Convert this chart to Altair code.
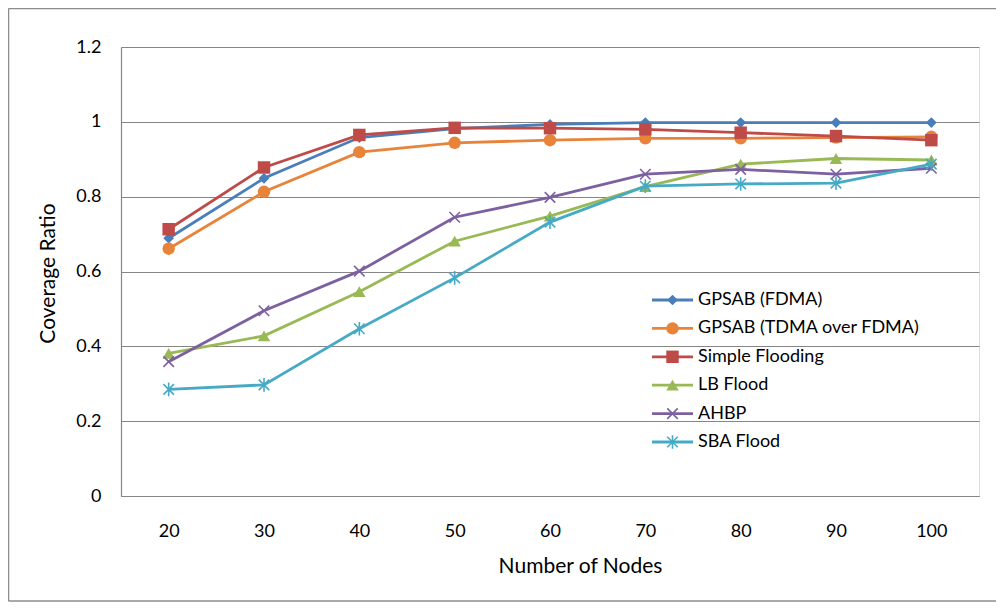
import altair as alt
import pandas as pd

nodes = [20, 30, 40, 50, 60, 70, 80, 90, 100]
series_names = ["GPSAB (FDMA)", "GPSAB (TDMA over FDMA)", "Simple Flooding",
                "LB Flood", "AHBP", "SBA Flood"]
gpsab_fdma = [0.689, 0.849, 0.958, 0.982, 0.993, 0.998, 0.998, 0.998, 0.998]
gpsab_tdma = [0.661, 0.813, 0.919, 0.944, 0.951, 0.956, 0.956, 0.958, 0.960]
simple_flooding = [0.713, 0.878, 0.965, 0.984, 0.983, 0.980, 0.971, 0.962, 0.951]
lb_flood = [0.381, 0.428, 0.546, 0.681, 0.748, 0.827, 0.887, 0.902, 0.898]
ahbp = [0.359, 0.495, 0.601, 0.745, 0.798, 0.860, 0.873, 0.860, 0.876]
sba_flood = [0.285, 0.297, 0.447, 0.583, 0.732, 0.828, 0.834, 0.836, 0.887]
y_ticks = [0, 0.2, 0.4, 0.6, 0.8, 1.0, 1.2]

all_values = [gpsab_fdma, gpsab_tdma, simple_flooding, lb_flood, ahbp, sba_flood]
colors = ["#4A7EBB", "#E8843A", "#BE4B48", "#98B954", "#7D60A0", "#46AAC5"]
X_PATH = "M-1,-1L1,1M-1,1L1,-1"
AST_PATH = "M-1,-1L1,1M-1,1L1,-1M0,-1.3L0,1.3"
shapes = ["diamond", "circle", "square", "triangle-up", X_PATH, AST_PATH]
sizes = [115, 155, 155, 155, 110, 110]
filled = [True, True, True, True, False, False]

FONT = "Lato"
W, H = 858, 449

x_enc = alt.X("nodes:O", title="Number of Nodes",
              scale=alt.Scale(type="point", padding=0.5),
              axis=alt.Axis(labelAngle=0, ticks=False, grid=False, domain=True,
                            domainColor="#868686", domainWidth=1.2,
                            labelPadding=26,
                            titleX=459, titleY=70, titleBaseline="middle",
                            labelFontSize=18, titleFontSize=21,
                            labelFont=FONT, titleFont=FONT,
                            labelColor="black", titleColor="black",
                            titleFontWeight="normal"))
y_enc = alt.Y("value:Q", title="Coverage Ratio",
              scale=alt.Scale(domain=[0, 1.2], nice=False, zero=True),
              axis=alt.Axis(values=y_ticks, format="~g", ticks=False, grid=True,
                            gridColor="#868686", gridWidth=1.2,
                            domain=True, domainColor="#868686", domainWidth=1.2,
                            labelPadding=20,
                            titleX=-73, titleY=226, titleBaseline="middle",
                            labelFontSize=18, titleFontSize=21,
                            labelFont=FONT, titleFont=FONT,
                            labelColor="black", titleColor="black",
                            titleFontWeight="normal"))

layers = []
for i, (name, vals) in enumerate(zip(series_names, all_values)):
    df = pd.DataFrame({"nodes": nodes, "value": vals, "series": name})
    base = alt.Chart(df)
    line = base.mark_line(color=colors[i], strokeWidth=2.8).encode(x=x_enc, y=y_enc)
    if filled[i]:
        pts = base.mark_point(shape=shapes[i], filled=True, size=sizes[i],
                              color=colors[i], opacity=1).encode(x=x_enc, y=y_enc)
    else:
        pts = base.mark_point(shape=shapes[i], filled=False, size=sizes[i],
                              color=colors[i], strokeWidth=1.6, opacity=1).encode(x=x_enc, y=y_enc)
    layers += [line, pts]

# manual legend (line + marker + label)
leg_x0, leg_x1, leg_xm, leg_xt = 531, 572, 551.5, 577
leg_y0, leg_dy = 253, 28.4
for i, name in enumerate(series_names):
    ly = leg_y0 + i * leg_dy
    one = alt.Chart(pd.DataFrame({"series": [name]}))
    layers.append(one.mark_rule(color=colors[i], strokeWidth=2.8).encode(
        x=alt.value(leg_x0), x2=alt.value(leg_x1), y=alt.value(ly)))
    if filled[i]:
        layers.append(one.mark_point(shape=shapes[i], filled=True, size=sizes[i],
                                     color=colors[i], opacity=1).encode(
            x=alt.value(leg_xm), y=alt.value(ly)))
    else:
        layers.append(one.mark_point(shape=shapes[i], filled=False, size=sizes[i],
                                     color=colors[i], strokeWidth=1.6, opacity=1).encode(
            x=alt.value(leg_xm), y=alt.value(ly)))
    layers.append(one.mark_text(align="left", baseline="middle", font=FONT,
                                fontSize=18, color="black").encode(
        x=alt.value(leg_xt), y=alt.value(ly), text="series:N"))

# outer chart border (left, top, bottom)
bd = alt.Chart(pd.DataFrame({"k": [0]}))
border_color = "#8C8C8C"
layers.append(bd.mark_rule(color=border_color, strokeWidth=1.5).encode(
    x=alt.value(-112.5), y=alt.value(-38.5), y2=alt.value(554)))
layers.append(bd.mark_rule(color=border_color, strokeWidth=1.5).encode(
    x=alt.value(-112.5), x2=alt.value(880), y=alt.value(-38.5)))
layers.append(bd.mark_rule(color=border_color, strokeWidth=1.5).encode(
    x=alt.value(-112.5), x2=alt.value(880), y=alt.value(554)))

chart = alt.layer(*layers).properties(
    width=W, height=H,
    autosize=alt.AutoSizeParams(type="none"),
    padding={"left": 113, "top": 39, "right": 17, "bottom": 106},
).configure_view(stroke=None).configure(background="white")

chart.save("out.html", embed_options={"renderer": "svg", "actions": False})
